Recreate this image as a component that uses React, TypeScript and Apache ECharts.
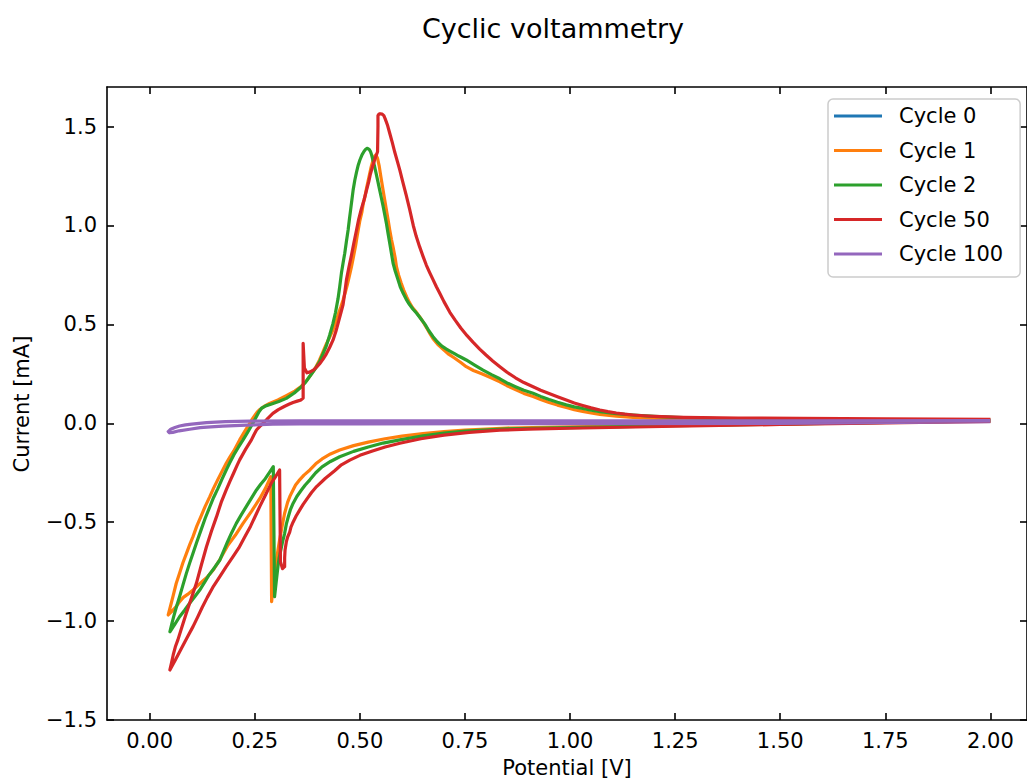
import React, { useEffect, useRef } from "react";
import * as echarts from "echarts";

const chartTitle = "Cyclic voltammetry";
const xAxisTitle = "Potential [V]";
const yAxisTitle = "Current [mA]";

const seriesNames = ["Cycle 0", "Cycle 1", "Cycle 2", "Cycle 50", "Cycle 100"];
const seriesColors = ["#1f77b4", "#ff7f0e", "#2ca02c", "#d62728", "#9467bd"];

const xTicks = [0, 0.25, 0.5, 0.75, 1.0, 1.25, 1.5, 1.75, 2.0];
const yTicks = [-1.5, -1.0, -0.5, 0.0, 0.5, 1.0, 1.5];

// [potential V, current mA]
const cycle0: number[][] = [];

const cycle1: number[][] = [
  [2.0, 0.012], [1.75, 0.005], [1.5, -0.003], [1.25, -0.01], [1.0, -0.018], [0.85, -0.024],
  [0.75, -0.034], [0.7, -0.042], [0.65, -0.052], [0.6, -0.065], [0.56, -0.078], [0.52, -0.095],
  [0.485, -0.113], [0.452, -0.135], [0.43, -0.155], [0.41, -0.18], [0.395, -0.205], [0.381, -0.236],
  [0.367, -0.262], [0.355, -0.29], [0.347, -0.312], [0.341, -0.337], [0.334, -0.367], [0.328, -0.4],
  [0.321, -0.455], [0.315, -0.52], [0.309, -0.59], [0.303, -0.67], [0.297, -0.758], [0.293, -0.84],
  [0.29, -0.902], [0.288, -0.27], [0.275, -0.33], [0.262, -0.38], [0.242, -0.445], [0.222, -0.506],
  [0.204, -0.565], [0.185, -0.62], [0.168, -0.685], [0.151, -0.742], [0.138, -0.775], [0.125, -0.8],
  [0.113, -0.823], [0.103, -0.843], [0.09, -0.865], [0.08, -0.88], [0.07, -0.905], [0.063, -0.927],
  [0.052, -0.952], [0.044, -0.969],
  [0.05, -0.92], [0.056, -0.87], [0.063, -0.81], [0.071, -0.758], [0.079, -0.705], [0.087, -0.66],
  [0.095, -0.615], [0.103, -0.573], [0.112, -0.52], [0.122, -0.47], [0.132, -0.42], [0.143, -0.371],
  [0.152, -0.328], [0.162, -0.285], [0.172, -0.243], [0.182, -0.202], [0.191, -0.17], [0.2, -0.14],
  [0.207, -0.112], [0.214, -0.084], [0.225, -0.045], [0.235, -0.01], [0.243, 0.018], [0.25, 0.04],
  [0.256, 0.058], [0.262, 0.07], [0.272, 0.085], [0.285, 0.1], [0.305, 0.118], [0.325, 0.14],
  [0.345, 0.163], [0.36, 0.185], [0.373, 0.215], [0.385, 0.25], [0.395, 0.283], [0.404, 0.32],
  [0.412, 0.36], [0.42, 0.4], [0.428, 0.435], [0.436, 0.472], [0.443, 0.515], [0.45, 0.56],
  [0.455, 0.59], [0.46, 0.623], [0.465, 0.66], [0.47, 0.7], [0.475, 0.745], [0.48, 0.792],
  [0.485, 0.845], [0.49, 0.9], [0.493, 0.94], [0.496, 0.977], [0.5, 1.025], [0.505, 1.07],
  [0.508, 1.11], [0.512, 1.146], [0.516, 1.19], [0.52, 1.23], [0.524, 1.268], [0.527, 1.297],
  [0.531, 1.328], [0.535, 1.35], [0.538, 1.357], [0.542, 1.34], [0.546, 1.3], [0.55, 1.245],
  [0.555, 1.18], [0.559, 1.13], [0.563, 1.08], [0.567, 1.03], [0.571, 0.977], [0.575, 0.93],
  [0.58, 0.88], [0.584, 0.835], [0.587, 0.792], [0.592, 0.75], [0.598, 0.71], [0.604, 0.675],
  [0.611, 0.64], [0.618, 0.61], [0.625, 0.585], [0.634, 0.562], [0.642, 0.539], [0.651, 0.51],
  [0.66, 0.478], [0.667, 0.452], [0.674, 0.428], [0.687, 0.395], [0.7, 0.37], [0.712, 0.348],
  [0.725, 0.33], [0.74, 0.307], [0.753, 0.286], [0.77, 0.267], [0.79, 0.25], [0.812, 0.23],
  [0.833, 0.21], [0.85, 0.19], [0.87, 0.17], [0.89, 0.151], [0.912, 0.135], [0.93, 0.12],
  [0.95, 0.105], [0.97, 0.092], [0.991, 0.08], [1.01, 0.069], [1.03, 0.06], [1.05, 0.052],
  [1.071, 0.045], [1.11, 0.036], [1.15, 0.03], [1.2, 0.025], [1.25, 0.022], [1.35, 0.019],
  [1.5, 0.017], [1.75, 0.015], [2.0, 0.015],
];

const cycle2: number[][] = [
  [2.0, 0.012], [1.75, 0.004], [1.5, -0.004], [1.25, -0.012], [1.0, -0.022], [0.85, -0.028],
  [0.75, -0.04], [0.7, -0.05], [0.65, -0.064], [0.595, -0.084], [0.555, -0.1], [0.52, -0.12],
  [0.485, -0.142], [0.452, -0.169], [0.43, -0.193], [0.41, -0.22], [0.395, -0.25], [0.381, -0.286],
  [0.37, -0.312], [0.36, -0.34], [0.35, -0.37], [0.341, -0.405], [0.335, -0.435], [0.33, -0.47],
  [0.325, -0.51], [0.321, -0.556], [0.316, -0.6], [0.312, -0.64], [0.308, -0.68], [0.305, -0.725],
  [0.301, -0.8], [0.297, -0.877], [0.294, -0.219], [0.285, -0.248], [0.275, -0.28], [0.264, -0.308],
  [0.254, -0.337], [0.242, -0.378], [0.23, -0.42], [0.218, -0.462], [0.206, -0.506], [0.195, -0.553],
  [0.185, -0.6], [0.176, -0.645], [0.167, -0.691], [0.154, -0.73], [0.14, -0.77], [0.13, -0.806],
  [0.119, -0.843], [0.107, -0.877], [0.095, -0.91], [0.083, -0.945], [0.071, -0.978],
  [0.06, -1.015], [0.048, -1.054],
  [0.053, -1.01], [0.058, -0.97], [0.064, -0.925], [0.071, -0.877], [0.079, -0.818], [0.087, -0.76],
  [0.095, -0.707], [0.103, -0.657], [0.112, -0.6], [0.122, -0.54], [0.132, -0.48], [0.143, -0.422],
  [0.152, -0.375], [0.162, -0.33], [0.172, -0.282], [0.182, -0.236], [0.191, -0.197], [0.2, -0.16],
  [0.211, -0.121], [0.222, -0.084], [0.231, -0.052], [0.24, -0.02], [0.247, 0.006], [0.254, 0.034],
  [0.26, 0.058], [0.266, 0.076], [0.276, 0.088], [0.29, 0.098], [0.307, 0.11], [0.325, 0.126],
  [0.344, 0.153], [0.361, 0.185], [0.371, 0.208], [0.38, 0.235], [0.392, 0.27], [0.404, 0.31],
  [0.412, 0.35], [0.42, 0.39], [0.428, 0.445], [0.436, 0.505], [0.442, 0.56], [0.448, 0.63],
  [0.452, 0.69], [0.456, 0.758], [0.46, 0.81], [0.464, 0.86], [0.468, 0.92], [0.472, 0.977],
  [0.475, 1.03], [0.478, 1.08], [0.481, 1.13], [0.484, 1.18], [0.488, 1.23], [0.492, 1.27],
  [0.496, 1.305], [0.5, 1.331], [0.505, 1.357], [0.51, 1.375], [0.514, 1.386], [0.518, 1.39],
  [0.522, 1.385], [0.525, 1.375], [0.528, 1.356], [0.531, 1.331], [0.535, 1.298], [0.539, 1.26],
  [0.543, 1.22], [0.547, 1.18], [0.551, 1.14], [0.555, 1.1], [0.559, 1.056], [0.563, 1.011],
  [0.567, 0.96], [0.571, 0.91], [0.575, 0.86], [0.579, 0.809], [0.584, 0.77], [0.59, 0.73],
  [0.596, 0.69], [0.603, 0.657], [0.61, 0.628], [0.618, 0.6], [0.626, 0.578], [0.635, 0.556],
  [0.645, 0.528], [0.655, 0.5], [0.664, 0.468], [0.674, 0.438], [0.684, 0.412], [0.695, 0.39],
  [0.705, 0.376], [0.714, 0.365], [0.725, 0.352], [0.735, 0.34], [0.744, 0.33], [0.753, 0.32],
  [0.773, 0.294], [0.793, 0.269], [0.813, 0.246], [0.833, 0.225], [0.85, 0.204], [0.87, 0.185],
  [0.89, 0.167], [0.912, 0.152], [0.93, 0.136], [0.95, 0.12], [0.97, 0.106], [0.991, 0.093],
  [1.01, 0.083], [1.03, 0.075], [1.05, 0.066], [1.071, 0.059], [1.11, 0.049], [1.15, 0.042],
  [1.2, 0.035], [1.25, 0.03], [1.35, 0.024], [1.5, 0.02], [1.75, 0.017], [2.0, 0.016],
];

const cycle50: number[][] = [
  [2.0, 0.01], [1.75, 0.002], [1.5, -0.006], [1.25, -0.015], [1.0, -0.025], [0.9, -0.03],
  [0.833, -0.035], [0.76, -0.046], [0.7, -0.06], [0.645, -0.078], [0.595, -0.101], [0.56, -0.12],
  [0.53, -0.14], [0.5, -0.162], [0.476, -0.186], [0.456, -0.21], [0.44, -0.24], [0.418, -0.278],
  [0.397, -0.32], [0.385, -0.35], [0.375, -0.38], [0.365, -0.41], [0.357, -0.438], [0.348, -0.47],
  [0.341, -0.5], [0.336, -0.525], [0.333, -0.55], [0.328, -0.575], [0.325, -0.6], [0.322, -0.64],
  [0.321, -0.68], [0.321, -0.725], [0.316, -0.735], [0.311, -0.7], [0.309, -0.236], [0.3, -0.268],
  [0.29, -0.3], [0.276, -0.36], [0.262, -0.42], [0.251, -0.47], [0.24, -0.52], [0.226, -0.575],
  [0.212, -0.63], [0.197, -0.678], [0.182, -0.725], [0.166, -0.778], [0.15, -0.83], [0.137, -0.88],
  [0.125, -0.93], [0.114, -0.98], [0.103, -1.028], [0.091, -1.075], [0.08, -1.12], [0.07, -1.16],
  [0.06, -1.2], [0.048, -1.247],
  [0.052, -1.21], [0.056, -1.17], [0.061, -1.13], [0.067, -1.095], [0.077, -1.027], [0.087, -0.96],
  [0.099, -0.885], [0.111, -0.809], [0.123, -0.715], [0.135, -0.624], [0.147, -0.545], [0.159, -0.472],
  [0.17, -0.4], [0.182, -0.337], [0.191, -0.292], [0.2, -0.25], [0.207, -0.217], [0.214, -0.185],
  [0.228, -0.132], [0.242, -0.084], [0.248, -0.058], [0.254, -0.034], [0.262, -0.016], [0.27, 0.0],
  [0.281, 0.025], [0.293, 0.05], [0.306, 0.069], [0.32, 0.085], [0.331, 0.096], [0.341, 0.105],
  [0.351, 0.112], [0.36, 0.118], [0.365, 0.128], [0.365, 0.404], [0.368, 0.28], [0.374, 0.255],
  [0.382, 0.26], [0.39, 0.27], [0.397, 0.284], [0.404, 0.3], [0.412, 0.323], [0.42, 0.35],
  [0.428, 0.383], [0.436, 0.42], [0.443, 0.465], [0.45, 0.52], [0.455, 0.56], [0.46, 0.6],
  [0.464, 0.66], [0.468, 0.725], [0.474, 0.79], [0.48, 0.85], [0.486, 0.915], [0.492, 0.977],
  [0.497, 1.03], [0.503, 1.08], [0.51, 1.13], [0.516, 1.18], [0.521, 1.22], [0.525, 1.26],
  [0.53, 1.297], [0.535, 1.331], [0.539, 1.355], [0.542, 1.373], [0.543, 1.5], [0.543, 1.555],
  [0.545, 1.562], [0.548, 1.565], [0.553, 1.563], [0.557, 1.555], [0.56, 1.54], [0.566, 1.505],
  [0.571, 1.466], [0.577, 1.42], [0.583, 1.37], [0.589, 1.325], [0.595, 1.28], [0.602, 1.22],
  [0.61, 1.155], [0.618, 1.085], [0.627, 1.0], [0.634, 0.945], [0.642, 0.893], [0.65, 0.845],
  [0.658, 0.8], [0.666, 0.762], [0.674, 0.726], [0.682, 0.69], [0.69, 0.657], [0.7, 0.615],
  [0.714, 0.561], [0.727, 0.52], [0.74, 0.482], [0.755, 0.443], [0.769, 0.41], [0.785, 0.375],
  [0.8, 0.345], [0.816, 0.315], [0.833, 0.286], [0.85, 0.258], [0.87, 0.23], [0.89, 0.206],
  [0.912, 0.185], [0.93, 0.167], [0.95, 0.15], [0.97, 0.134], [0.991, 0.118], [1.01, 0.103],
  [1.03, 0.09], [1.05, 0.078], [1.071, 0.067], [1.09, 0.059], [1.11, 0.052], [1.13, 0.046],
  [1.15, 0.042], [1.175, 0.038], [1.2, 0.035], [1.235, 0.032], [1.269, 0.03], [1.4, 0.026],
  [1.547, 0.025], [1.75, 0.023], [2.0, 0.02],
];

const cycle100: number[][] = [
  [2.0, 0.008], [1.5, 0.0], [1.0, -0.002], [0.5, -0.003], [0.357, -0.003], [0.293, -0.005],
  [0.23, -0.009], [0.174, -0.014], [0.145, -0.018], [0.12, -0.022], [0.095, -0.03], [0.07, -0.038],
  [0.055, -0.046], [0.047, -0.048], [0.044, -0.042], [0.05, -0.03], [0.06, -0.021], [0.071, -0.014],
  [0.085, -0.008], [0.1, -0.004], [0.135, 0.003], [0.18, 0.008], [0.238, 0.011], [0.357, 0.012],
  [0.6, 0.012], [1.0, 0.012], [1.5, 0.012], [2.0, 0.013],
];

const cycles = [cycle0, cycle1, cycle2, cycle50, cycle100];

const FONT = "DejaVu Sans";
const fmt = (v: number, d: number) => v.toFixed(d).replace("-", "\u2212");

export default function App() {
  const ref = useRef<HTMLDivElement>(null);
  useEffect(() => {
    if (!ref.current) return;
    const chart = echarts.init(ref.current, undefined, { renderer: "svg" });
    const xMin = -0.1016;
    const xMax = 2.087;
    const yMin = -1.5;
    const yMax = 1.7;
    const spine = { show: true, onZero: false, lineStyle: { color: "#000", width: 1.6 } };
    const tick = (vals: number[]) => ({
      show: true,
      inside: true,
      length: 7,
      customValues: vals,
      lineStyle: { color: "#000", width: 1.6 },
    });
    chart.setOption({
      animation: false,
      textStyle: { fontFamily: FONT },
      grid: { left: 107, top: 87, width: 921, height: 633, containLabel: false },
      graphic: [
        {
          type: "text",
          x: 553,
          y: 28,
          style: { text: chartTitle, fontSize: 27, fontFamily: FONT, fill: "#000", align: "center", verticalAlign: "middle" },
        },
        {
          type: "text",
          x: 567,
          y: 768,
          style: { text: xAxisTitle, fontSize: 21, fontFamily: FONT, fill: "#000", align: "center", verticalAlign: "middle" },
        },
        {
          type: "text",
          x: 22,
          y: 404,
          rotation: Math.PI / 2,
          style: { text: yAxisTitle, fontSize: 21, fontFamily: FONT, fill: "#000", align: "center", verticalAlign: "middle" },
        },
      ],
      legend: {
        orient: "vertical",
        left: 828,
        top: 99,
        padding: [5, 17, 11, 6],
        icon: "rect",
        itemWidth: 48,
        itemHeight: 3,
        itemGap: 10.5,
        data: seriesNames,
        textStyle: { fontSize: 21, fontFamily: FONT, color: "#000", lineHeight: 24, padding: [0, 0, 0, 12] },
        borderColor: "#cccccc",
        borderWidth: 1.5,
        borderRadius: 5,
        backgroundColor: "rgba(255,255,255,0.8)",
      },
      xAxis: [
        {
          type: "value",
          position: "bottom",
          min: xMin,
          max: xMax,
          axisLine: spine,
          axisTick: tick(xTicks),
          axisLabel: {
            customValues: xTicks,
            formatter: (v: number) => fmt(v, 2),
            fontSize: 21,
            fontFamily: FONT,
            color: "#000",
            margin: 10,
          },
          splitLine: { show: false },
        },
        {
          type: "value",
          position: "top",
          min: xMin,
          max: xMax,
          axisLine: spine,
          axisTick: tick(xTicks),
          axisLabel: { show: false },
          splitLine: { show: false },
        },
      ],
      yAxis: [
        {
          type: "value",
          position: "left",
          min: yMin,
          max: yMax,
          axisLine: spine,
          axisTick: tick(yTicks),
          axisLabel: {
            customValues: yTicks,
            formatter: (v: number) => fmt(v, 1),
            fontSize: 21,
            fontFamily: FONT,
            color: "#000",
            margin: 10,
          },
          splitLine: { show: false },
        },
        {
          type: "value",
          position: "right",
          min: yMin,
          max: yMax,
          axisLine: spine,
          axisTick: tick(yTicks),
          axisLabel: { show: false },
          splitLine: { show: false },
        },
      ],
      series: cycles.map((d, i) => ({
        name: seriesNames[i],
        type: "line",
        xAxisIndex: 0,
        yAxisIndex: 0,
        data: d,
        symbol: "none",
        showSymbol: false,
        smooth: false,
        clip: true,
        color: seriesColors[i],
        itemStyle: { color: seriesColors[i] },
        lineStyle: { color: seriesColors[i], width: 3.2, join: "round" },
      })),
    });
    return () => chart.dispose();
  }, []);
  return (
    <div
      ref={ref}
      style={{ position: "fixed", left: 0, top: 0, width: 1027, height: 781, background: "#fff" }}
    />
  );
}
